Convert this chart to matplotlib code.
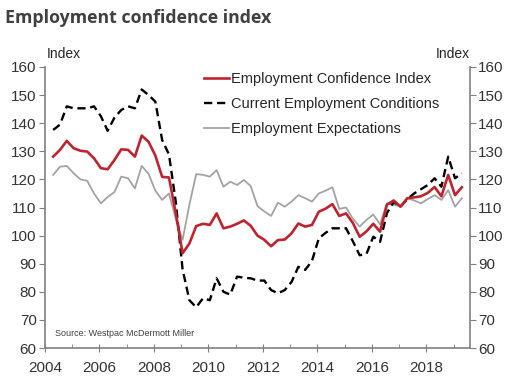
import matplotlib
matplotlib.use("Agg")
import matplotlib.pyplot as plt
import numpy as np

# Quarterly data, 2004 Q2 .. 2019 Q2
start_year = 2004.3
step = 0.25

eci = [128.1, 130.5, 133.7, 131.1, 130.2, 129.9, 127.5, 124.0, 123.6, 126.9,
       130.7, 130.5, 128.1, 135.6, 133.4, 128.5, 120.9, 120.7, 108.0, 93.7,
       97.2, 103.4, 104.2, 103.8, 107.9, 102.6, 103.2, 104.2, 105.4, 103.5,
       100.0, 98.5, 96.2, 98.4, 98.6, 100.8, 104.3, 103.2, 103.8, 108.5,
       109.6, 111.2, 107.0, 107.9, 104.5, 99.6, 101.5, 104.2, 101.4, 111.0,
       112.5, 110.3, 113.3, 113.6, 114.0, 115.2, 117.3, 114.0, 121.6, 114.4,
       117.2]

current = [137.6, 139.5, 146.0, 145.3, 145.3, 145.3, 146.0, 142.5, 137.3, 142.0,
           144.7, 146.0, 145.3, 152.0, 150.0, 147.7, 134.0, 128.9, 112.0, 88.0,
           77.0, 74.5, 77.7, 77.0, 84.8, 80.0, 79.0, 85.4, 85.0, 84.8,
           84.0, 84.0, 80.6, 79.5, 80.6, 83.5, 88.9, 87.8, 91.0, 99.0,
           101.0, 102.6, 102.6, 102.6, 98.0, 93.0, 93.5, 99.6, 97.8, 108.0,
           112.0, 110.3, 113.0, 115.0, 116.5, 118.0, 120.4, 117.4, 128.1, 120.4,
           122.2]

expect = [121.6, 124.5, 124.8, 122.2, 120.0, 119.5, 115.0, 111.5, 113.7, 115.5,
          121.0, 120.4, 116.8, 124.8, 122.0, 116.0, 112.7, 115.0, 106.0, 98.5,
          111.0, 121.9, 121.6, 121.0, 123.3, 117.4, 119.2, 118.0, 119.8, 117.6,
          110.5, 108.6, 107.0, 111.7, 110.3, 112.1, 114.4, 113.3, 112.1, 115.0,
          116.0, 117.2, 109.5, 110.0, 106.0, 103.2, 105.6, 107.5, 104.0, 111.5,
          111.0, 110.3, 113.3, 112.5, 111.5, 113.0, 114.4, 112.7, 116.2, 110.3,
          113.3]

series_names = ["Employment Confidence Index", "Current Employment Conditions",
                "Employment Expectations"]
x_ticks = [2004, 2006, 2008, 2010, 2012, 2014, 2016, 2018]
y_ticks = [60, 70, 80, 90, 100, 110, 120, 130, 140, 150, 160]

t = start_year + step * np.arange(len(eci))

plt.rcParams['font.family'] = ['Liberation Sans', 'DejaVu Sans']

fig = plt.figure(figsize=(5.19, 3.86), dpi=100)
ax = fig.add_axes([45/519, 1-348/386, (470-45)/519, (348-67)/386])

ax.plot(t, expect, color='#a3a3a3', lw=1.3, label=series_names[2], zorder=2)
ax.plot(t, current, color='black', lw=1.7, ls=(0, (3.5, 2)), label=series_names[1], zorder=3)
ax.plot(t, eci, color='#c0232e', lw=1.9, label=series_names[0], zorder=4)

ax.set_xlim(2004, 2019.6)
ax.set_ylim(60, 160)
ax.set_xticks(x_ticks)
ax.set_xticks(np.arange(2005, 2020, 2), minor=True)
ax.set_yticks(y_ticks)

for s in ['left', 'right', 'bottom']:
    ax.spines[s].set_color('#808080')
    ax.spines[s].set_linewidth(1.2)
ax.spines['top'].set_visible(False)

ax.tick_params(axis='y', which='both', left=True, right=True, labelleft=True,
               labelright=True, direction='out', length=4, color='#808080',
               labelsize=11, labelcolor='#333333', pad=2)
ax.tick_params(axis='x', which='major', direction='inout', length=6, color='#808080',
               labelsize=11, labelcolor='#333333', pad=6)
ax.tick_params(axis='x', which='minor', direction='in', length=3, color='#808080')

handles, labels = ax.get_legend_handles_labels()
order = [2, 1, 0]
leg = ax.legend([handles[i] for i in order], [labels[i] for i in order],
                loc='upper left', bbox_to_anchor=((195-45)/425, 1.012),
                frameon=False, fontsize=10.5, handlelength=1.7, handletextpad=0.2,
                labelspacing=0.75, borderaxespad=0.2, labelcolor='#262626')

ax.text(55/519, 1-333/386, "Source: Westpac McDermott Miller", transform=fig.transFigure,
        fontsize=6.5, color='#404040', va='center', ha='left')

fig.text(64/519, 1-54/386, "Index", fontsize=10, color='#262626', ha='center', va='center')
fig.text(453/519, 1-54/386, "Index", fontsize=10, color='#262626', ha='center', va='center')

fig.text(5/519, 1-18/386, "Employment confidence index", fontsize=12.8, fontweight='bold',
         family=['Open Sans', 'DejaVu Sans'], color='#404040', ha='left', va='center')

fig.savefig("out.png", dpi=100)
